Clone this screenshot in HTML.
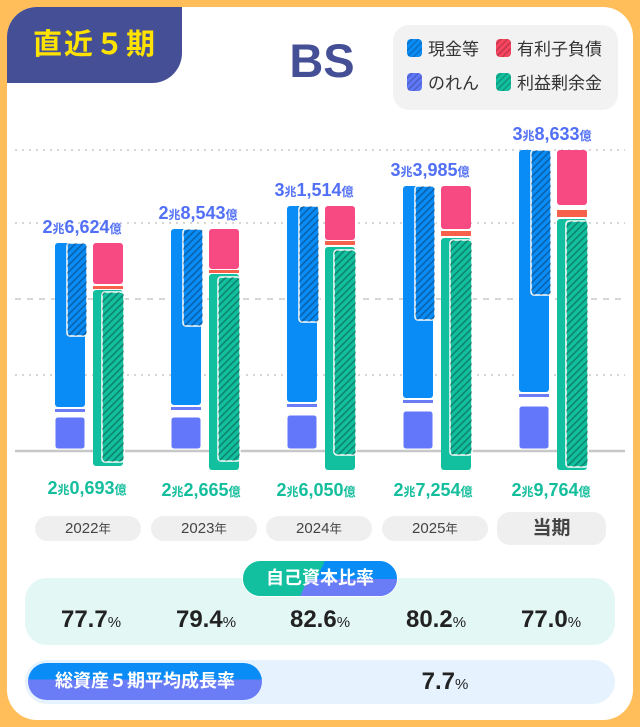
<!DOCTYPE html>
<html><head><meta charset="utf-8"><style>
*{margin:0;padding:0;box-sizing:border-box}
body{width:640px;height:727px;background:#FFBE5A;font-family:"Liberation Sans","Noto Sans CJK JP",sans-serif;position:relative;overflow:hidden}
.card{position:absolute;left:7px;top:7px;width:626px;height:713px;background:#fff;border-radius:30px}
.abs{position:absolute}
.tab{left:7px;top:7px;width:175px;height:76px;background:#454F96;border-radius:30px 0 30px 0;color:#FFE300;font-weight:bold;font-size:29px;line-height:76px;padding-left:26px;letter-spacing:2px}
.bs{left:2px;width:640px;top:33px;text-align:center;font-size:47px;font-weight:bold;color:#454F96}
.leg{left:393px;top:25px;width:225px;height:85px;background:#f2f2f2;border-radius:16px;font-size:17px;color:#333}
.leg div{position:absolute;display:flex;align-items:center;gap:6px}
.sw{width:15px;height:18px;border-radius:4px;display:inline-block;background-image:repeating-linear-gradient(135deg,transparent 0 3px,rgba(0,0,0,.2) 3px 4.5px)}
.tl{font-size:18px;font-weight:bold;color:#5270F5;text-align:center;width:116px}
.tl small,.bl small{font-size:12px}
.bl{font-size:18px;font-weight:bold;color:#14BE9C;text-align:center;width:116px}
.pill{background:#efefef;border-radius:13px;text-align:center;font-size:15px;color:#444}
.val{font-size:24px;font-weight:bold;color:#222;text-align:center;width:116px}
.val small{font-size:15px;font-weight:normal}
</style></head><body>
<div class="card"></div>
<div class="abs tab">直近５期</div>
<div class="abs bs">BS</div>
<div class="abs leg">
<div style="left:14px;top:10px"><span class="sw" style="background-color:#0A8CF7"></span>現金等</div>
<div style="left:103px;top:10px"><span class="sw" style="background-color:#F74560"></span>有利子負債</div>
<div style="left:14px;top:44px"><span class="sw" style="background-color:#5F78FA"></span>のれん</div>
<div style="left:103px;top:44px"><span class="sw" style="background-color:#12BF9E"></span>利益剰余金</div>
</div>
<svg class="abs" style="left:0;top:0" width="640" height="727">
<defs><pattern id="h" width="5" height="5" patternUnits="userSpaceOnUse" patternTransform="rotate(45)"><rect width="5" height="5" fill="none"/><rect width="1.6" height="5" fill="rgba(0,0,0,0.3)"/></pattern></defs>
<g stroke="#d6d6d6" stroke-width="2">
<line x1="15" x2="625" y1="150" y2="150" stroke-dasharray="2 5"/>
<line x1="15" x2="625" y1="223" y2="223" stroke-dasharray="2 5"/>
<line x1="15" x2="625" y1="299" y2="299" stroke-dasharray="6 6"/>
<line x1="15" x2="625" y1="375" y2="375" stroke-dasharray="2 5"/>
<line x1="15" x2="625" y1="451" y2="451" stroke="#c8c8c8" stroke-width="2.5"/>
</g>
<g id="bars"></g>
</svg>
<script>
var d=[[243,336,407,417,243,284,286,290,466,292,462],[229,326,405,417,229,269,270,274,470,277,461],[206,322,402,415,206,240,241,247,470,250,455],[186,320,398,411,186,229,231,238,470,240,455],[150,295,392,406,150,205,210,219,470,221,467]];
var s='';d.forEach(function(v,i){var x=55+i*116;
s+='<rect x="'+x+'" y="'+v[0]+'" width="30" height="'+(v[2]-v[0])+'" rx="3" fill="#0A8CF7"/>';
s+='<rect x="'+x+'" y="'+(v[2]+2)+'" width="30" height="3" fill="#6A7DF7"/>';
s+='<rect x="'+x+'" y="'+v[3]+'" width="30" height="'+(449-v[3])+'" rx="3" fill="#6377FA" stroke="#fff"/>';
s+='<rect x="'+(x+12)+'" y="'+v[0]+'" width="20" height="'+(v[1]-v[0])+'" rx="3" fill="#0A8CF7" stroke="#fff" stroke-width="1.5"/>';
s+='<rect x="'+(x+12)+'" y="'+v[0]+'" width="20" height="'+(v[1]-v[0])+'" rx="3" fill="url(#h)"/>';
var r=x+38;
s+='<rect x="'+r+'" y="'+v[4]+'" width="30" height="'+(v[5]-v[4])+'" rx="3" fill="#F74A82"/>';
s+='<rect x="'+r+'" y="'+v[6]+'" width="30" height="'+Math.max(3,v[7]-v[6]-2)+'" fill="#F7604A"/>';
s+='<rect x="'+r+'" y="'+v[7]+'" width="30" height="'+(v[8]-v[7])+'" rx="3" fill="#12BF9E"/>';
s+='<rect x="'+(r+9)+'" y="'+v[9]+'" width="22" height="'+(v[10]-v[9])+'" rx="3" fill="#12BF9E" stroke="#fff" stroke-width="1.5"/>';
s+='<rect x="'+(r+9)+'" y="'+v[9]+'" width="22" height="'+(v[10]-v[9])+'" rx="3" fill="url(#h)"/>';
});document.getElementById('bars').innerHTML=s;
</script>
<div class="abs tl" style="left:24px;top:217px">2<small>兆</small>6,624<small>億</small></div>
<div class="abs tl" style="left:140px;top:203px">2<small>兆</small>8,543<small>億</small></div>
<div class="abs tl" style="left:256px;top:180px">3<small>兆</small>1,514<small>億</small></div>
<div class="abs tl" style="left:372px;top:160px">3<small>兆</small>3,985<small>億</small></div>
<div class="abs tl" style="left:494px;top:124px">3<small>兆</small>8,633<small>億</small></div>
<div class="abs bl" style="left:29px;top:478px">2<small>兆</small>0,693<small>億</small></div>
<div class="abs bl" style="left:143px;top:480px">2<small>兆</small>2,665<small>億</small></div>
<div class="abs bl" style="left:258px;top:480px">2<small>兆</small>6,050<small>億</small></div>
<div class="abs bl" style="left:375px;top:480px">2<small>兆</small>7,254<small>億</small></div>
<div class="abs bl" style="left:493px;top:480px">2<small>兆</small>9,764<small>億</small></div>
<div class="abs pill" style="left:35px;top:516px;width:106px;height:25px;line-height:25px">2022<small>年</small></div>
<div class="abs pill" style="left:151px;top:516px;width:106px;height:25px;line-height:25px">2023<small>年</small></div>
<div class="abs pill" style="left:266px;top:516px;width:106px;height:25px;line-height:25px">2024<small>年</small></div>
<div class="abs pill" style="left:382px;top:516px;width:106px;height:25px;line-height:25px">2025<small>年</small></div>
<div class="abs pill" style="left:497px;top:512px;width:109px;height:33px;line-height:33px;font-size:19px;font-weight:bold">当期</div>
<div class="abs" style="left:25px;top:578px;width:590px;height:67px;background:#E3F7F4;border-radius:22px"></div>
<div class="abs" style="left:242px;top:560px;width:156px;height:37px;border-radius:19px;background:linear-gradient(115deg,#12BF9E 0 48%,#0A8CF7 48% 100%);overflow:hidden;border:1.5px solid #fff">
<div style="position:absolute;left:0;top:18px;width:100%;height:19px;background:linear-gradient(115deg,#12BF9E 0 40%,#6A7DF7 40% 100%)"></div>
<div style="position:absolute;left:0;top:0;width:100%;text-align:center;line-height:34px;color:#fff;font-weight:bold;font-size:18px">自己資本比率</div></div>
<div class="abs val" style="left:33px;top:606px">77.7<small>%</small></div>
<div class="abs val" style="left:148px;top:606px">79.4<small>%</small></div>
<div class="abs val" style="left:262px;top:606px">82.6<small>%</small></div>
<div class="abs val" style="left:378px;top:606px">80.2<small>%</small></div>
<div class="abs val" style="left:493px;top:606px">77.0<small>%</small></div>
<div class="abs" style="left:25px;top:660px;width:590px;height:44px;background:#E6F3FE;border-radius:22px"></div>
<div class="abs" style="left:28px;top:663px;width:234px;height:37px;border-radius:19px;background:linear-gradient(#0A8CF7 0 45%,#6A7DF7 45%);color:#fff;font-weight:bold;font-size:18px;text-align:center;line-height:37px">総資産５期平均成長率</div>
<div class="abs val" style="left:387px;top:668px;width:116px">7.7<small>%</small></div>
</body></html>
